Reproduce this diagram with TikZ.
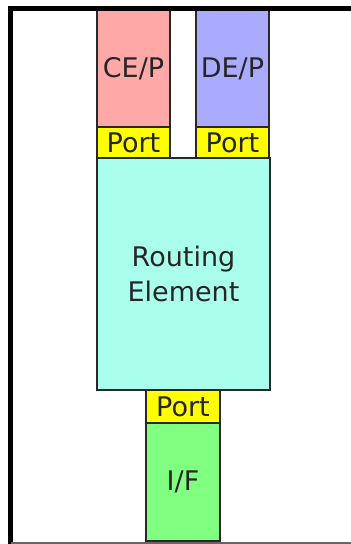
\documentclass[tikz,border=0pt]{standalone}
\usepackage{fontspec}
\setmainfont{DejaVu Sans}
\definecolor{cepc}{RGB}{255,168,168}
\definecolor{depc}{RGB}{170,170,255}
\definecolor{portc}{RGB}{255,255,0}
\definecolor{rec}{RGB}{170,255,236}
\definecolor{ifc}{RGB}{128,255,128}
\definecolor{edgec}{RGB}{40,40,40}
\begin{document}
\begin{tikzpicture}[x=1pt,y=-1pt,
  box/.style={draw=edgec, line width=2.5pt, rectangle, inner sep=0pt, outer sep=0pt,
    font=\fontsize{27}{35}\selectfont, text=black!85, align=center}]
\useasboundingbox (0,0) rectangle (351,544);
\fill[white] (0,0) rectangle (351,544);
\node[box, fill=cepc, minimum width=73pt, minimum height=117pt] (cep) at (133.5,68.5) {CE/P};
\node[box, fill=portc, minimum width=73pt, minimum height=31pt] (port1) at (133.5,142.5) {Port};
\node[box, fill=depc, minimum width=73pt, minimum height=117pt] (dep) at (232.5,68.5) {DE/P};
\node[box, fill=portc, minimum width=73pt, minimum height=31pt] (port2) at (232.5,142.5) {Port};
\node[box, fill=rec, minimum width=173pt, minimum height=232pt] (re) at (183.5,274) {Routing\\Element};
\node[box, fill=portc, minimum width=74pt, minimum height=33pt] (port3) at (183,406.5) {Port};
\node[box, fill=ifc, minimum width=74pt, minimum height=118pt] (if) at (183,482) {I/F};
% frame
\draw[line width=4.5pt, black] (351,8.5) -- (10.5,8.5) -- (10.5,544);
\draw[line width=2pt, black!60] (10.5,543) -- (351,543);
\end{tikzpicture}
\end{document}
